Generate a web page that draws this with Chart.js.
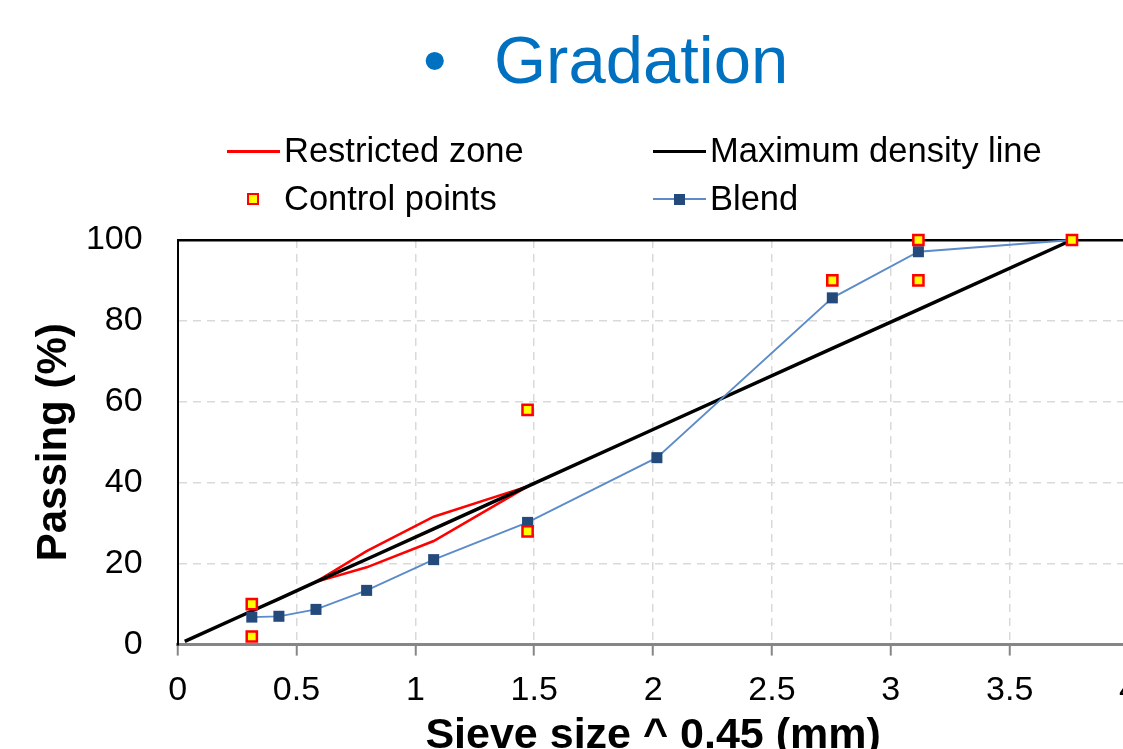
<!DOCTYPE html>
<html>
<head>
<meta charset="utf-8">
<script src="https://cdn.jsdelivr.net/npm/chart.js@4.4.1/dist/chart.umd.min.js"></script>
<style>
  html, body { margin: 0; padding: 0; background: #fff; overflow: hidden; width: 1123px; height: 749px; }
  #wrap { position: relative; width: 1123px; height: 749px; overflow: hidden; font-family: "Liberation Sans", Arial, sans-serif; }
  #chart { position: absolute; left: 0; top: 0; }
  .title { position: absolute; top: 26px; font-size: 67px; line-height: 67px; color: #0070C0; white-space: nowrap; }
  .lg-text { position: absolute; font-size: 34.5px; line-height: 34px; color: #000; white-space: nowrap; }
  .lg-line { position: absolute; height: 0; }
  .lg-box { position: absolute; box-sizing: border-box; }
</style>
</head>
<body>
<div id="wrap">
  <canvas id="chart" width="1153" height="770"></canvas>
  <div class="title" style="left:423px">•</div>
  <div class="title" style="left:494px">Gradation</div>
  <div id="legend"></div>
</div>
<script>
// sieve size ^ 0.45 for 0.075 ... 19 mm
const sieveX = [0.312, 0.426, 0.582, 0.795, 1.077, 1.472, 2.016, 2.754, 3.116, 3.762];
const blendPassing = [6.8, 7.0, 8.7, 13.4, 21.0, 30.2, 46.2, 85.7, 97.1, 100];

const mdlX = [0.03, 0.312, 0.426, 0.582, 0.795, 1.077, 1.472, 2.016, 2.754, 3.116, 3.762];
const mdlPassing = [0.8, 8.3, 11.3, 15.5, 21.1, 28.6, 39.1, 53.6, 73.2, 82.8, 100];

const zoneX = [0.582, 0.795, 1.077, 1.472, 1.077, 0.795, 0.582];
const zonePassing = [15.5, 23.1, 31.6, 39.1, 25.6, 19.1, 15.5];

const controlX = [0.312, 0.312, 1.472, 1.472, 2.754, 3.116, 3.116, 3.762];
const controlPassing = [10, 2, 58, 28, 90, 100, 90, 100];

const xTickLabels = ['0', '0.5', '1', '1.5', '2', '2.5', '3', '3.5', '4'];
const yTickLabels = ['0', '20', '40', '60', '80', '100'];

const FONT = '"Liberation Sans", Arial, sans-serif';

function toPoints(xs, ys) {
    return xs.map((x, i) => ({ x: x, y: ys[i] }));
}

const ctx = document.getElementById('chart').getContext('2d');

const chart = new Chart(ctx, {
    type: 'scatter',
    data: {
        datasets: [
            {
                label: 'Restricted zone',
                data: toPoints(zoneX, zonePassing),
                showLine: true,
                borderColor: '#FF0000',
                borderWidth: 2.5,
                pointRadius: 0,
                order: 3
            },
            {
                label: 'Maximum density line',
                data: toPoints(mdlX, mdlPassing),
                showLine: true,
                borderColor: '#000000',
                borderWidth: 3.5,
                pointRadius: 0,
                order: 2
            },
            {
                label: 'Control points',
                data: toPoints(controlX, controlPassing),
                showLine: false,
                pointStyle: 'rect',
                pointRadius: 7.2,
                backgroundColor: '#FFFF00',
                borderColor: '#FF0000',
                borderWidth: 2.5,
                order: 0
            },
            {
                label: 'Blend',
                data: toPoints(sieveX, blendPassing),
                showLine: true,
                borderColor: '#5B8BC8',
                borderWidth: 1.8,
                pointStyle: 'rect',
                pointRadius: 7.8,
                pointBackgroundColor: '#244A7C',
                pointBorderColor: '#244A7C',
                pointBorderWidth: 0,
                order: 1
            }
        ]
    },
    options: {
        responsive: false,
        animation: false,
        clip: false,
        layout: { padding: { top: 240, left: 29, right: 0, bottom: 8 } },
        plugins: {
            legend: { display: false },
            tooltip: { enabled: false }
        },
        elements: { line: { tension: 0 } },
        scales: {
            x: {
                type: 'linear',
                min: 0,
                max: 4,
                ticks: {
                    stepSize: 0.5,
                    padding: 15,
                    color: '#000',
                    font: { family: FONT, size: 34 },
                    callback: (v, i) => xTickLabels[i]
                },
                grid: {
                    color: '#D9D9D9',
                    lineWidth: 1.5,
                    tickColor: '#868686',
                    tickLength: 11,
                    tickWidth: 2,
                    tickBorderDash: []
                },
                border: { color: '#868686', width: 3, dash: [8, 6] },
                title: {
                    display: true,
                    text: 'Sieve size ^ 0.45 (mm)',
                    color: '#000',
                    font: { family: FONT, size: 43, weight: 'bold' },
                    padding: { top: -16, bottom: 0 }
                }
            },
            y: {
                type: 'linear',
                min: 0,
                max: 100,
                ticks: {
                    stepSize: 20,
                    padding: 35,
                    color: '#000',
                    font: { family: FONT, size: 34 },
                    callback: (v, i) => yTickLabels[i]
                },
                grid: {
                    drawTicks: false,
                    color: c => (c.tick && c.tick.value === 100 ? '#000' : '#D9D9D9'),
                    lineWidth: c => (c.tick && c.tick.value === 100 ? 2.5 : 1.5)
                },
                border: {
                    color: '#000',
                    width: 2,
                    dash: c => (c.tick && c.tick.value === 100 ? [] : [8, 6])
                },
                title: {
                    display: true,
                    text: 'Passing (%)',
                    color: '#000',
                    font: { family: FONT, size: 42, weight: 'bold' },
                    padding: { top: 0, bottom: -28.5 }
                }
            }
        }
    }
});

// legend laid out in two columns like the original
const legendPos = {
    'Restricted zone': { x: 227, y: 151 },
    'Maximum density line': { x: 653, y: 151 },
    'Control points': { x: 227, y: 199 },
    'Blend': { x: 653, y: 199 }
};
const legend = document.getElementById('legend');
chart.data.datasets.forEach(ds => {
    const p = legendPos[ds.label];
    let html = '';
    if (ds.showLine) {
        html += '<div class="lg-line" style="left:' + p.x + 'px;top:' + (p.y - 1) + 'px;width:53px;border-top:' +
            (ds.label === 'Blend' ? 2 : 3) + 'px solid ' + ds.borderColor + '"></div>';
    }
    if (ds.pointStyle === 'rect') {
        const isCtrl = ds.label === 'Control points';
        const s = isCtrl ? 12 : 11;
        const cx = isCtrl ? 253 : p.x + 26;
        html += '<div class="lg-box" style="left:' + (cx - s / 2) + 'px;top:' + (p.y - s / 2) + 'px;width:' + s + 'px;height:' + s +
            'px;background:' + (isCtrl ? ds.backgroundColor : ds.pointBackgroundColor) +
            (isCtrl ? ';border:2px solid ' + ds.borderColor : '') + '"></div>';
    }
    html += '<div class="lg-text" style="left:' + (p.x + 57) + 'px;top:' + (p.y - 18) + 'px">' + ds.label + '</div>';
    legend.insertAdjacentHTML('beforeend', html);
});
</script>
</body>
</html>
